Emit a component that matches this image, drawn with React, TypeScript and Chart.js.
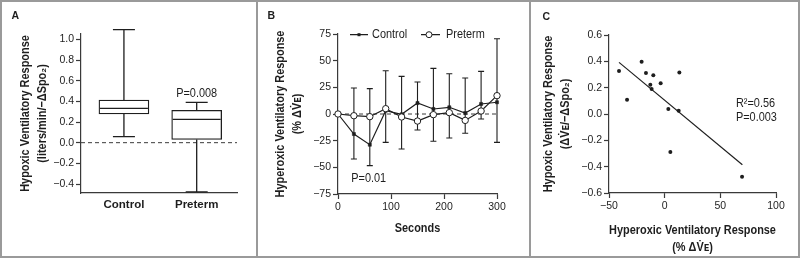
import React, { useEffect, useRef } from "react";
import { Chart, registerables } from "chart.js";

Chart.register(...registerables);

const FONT = "'Liberation Sans', Arial, 'DejaVu Sans', sans-serif";
const INK = "#1e1e1e";
const AXIS = "#3a3a3a";
const FRAME = "#9a9a9a";
const CONDENSE = 0.84;

// ---------- Panel A: box plot ----------
const A_GROUPS = ["Control", "Preterm"];
const A_MIN = [0.058, -0.477];
const A_Q1 = [0.278, 0.032];
const A_MEDIAN = [0.333, 0.226];
const A_Q3 = [0.413, 0.313];
const A_MAX = [1.095, 0.39];
const A_TICKS = [-0.4, -0.2, 0, 0.2, 0.4, 0.6, 0.8, 1.0];
const A_P_TEXT = "P=0.008";
const A_P_POS = [1, 0.48];
const A_Y_TITLE = ["Hypoxic Ventilatory Response", "(liters/min/\u2212\u0394Spo\u2082)"];

// ---------- Panel B: time course ----------
const B_SECONDS = [0, 30, 60, 90, 120, 150, 180, 210, 240, 270, 300];
const B_CONTROL = [0, -18.8, -28.8, 3.1, -0.3, 10.3, 4.7, 6.3, 0.9, 9.4, 11];
const B_PRETERM = [0, -1.6, -2.5, 5, -2.8, -6.6, -0.6, 1.3, -6, 2.8, 17.2];
const B_ERR_HIGH = [null, 24.4, 23.8, 40.6, 35.3, 30, 42.8, 37.8, 33.8, 40, 70.6];
const B_ERR_LOW = [null, -42.2, -48.4, -26.6, -32.8, -15, -25.6, -22.5, -18, -4.7, -26.6];
const B_TICKS_X = [0, 100, 200, 300];
const B_TICKS_Y = [-75, -50, -25, 0, 25, 50, 75];
const B_P_TEXT = "P=0.01";
const B_P_POS = [25, -60];
const B_SERIES = ["Control", "Preterm"];
const B_Y_TITLE = ["Hyperoxic Ventilatory Response", "(% \u0394V\u0307\u1D07)"];
const B_X_TITLE = ["Seconds"];

// ---------- Panel C: scatter + regression ----------
const C_X = [-41, -33.8, -20.7, -16.8, -12.9, -11.7, -10.2, -3.6, 3.3, 5.1, 12.6, 13.2, 69.5];
const C_Y = [0.327, 0.109, 0.397, 0.311, 0.223, 0.19, 0.294, 0.233, 0.038, -0.289, 0.025, 0.316, -0.476];
const C_FIT_X = [-41, 69.8];
const C_FIT_Y = [0.392, -0.385];
const C_TICKS_X = [-50, 0, 50, 100];
const C_TICKS_Y = [-0.6, -0.4, -0.2, 0, 0.2, 0.4, 0.6];
const C_STATS = ["R\u00B2=0.56", "P=0.003"];
const C_STATS_POS = [64, 0.078];
const C_Y_TITLE = ["Hypoxic Ventilatory Response", "(\u0394V\u0307\u1D07/\u2212\u0394Spo\u2082)"];
const C_X_TITLE = ["Hyperoxic Ventilatory Response", "(% \u0394V\u0307\u1D07)"];

const MINUS = "\u2212";
const fmt1 = (v: number) => (v < 0 ? MINUS : "") + Math.abs(v).toFixed(1);
const fmt0 = (v: number) => (v < 0 ? MINUS : "") + String(Math.abs(v));
const fixedTicks = (vals: number[]) => (scale: any) => {
  scale.ticks = vals.map((v) => ({ value: v }));
};

const TICK_FONT = { size: 10.5 };

function yScale(min: number, max: number, ticks: number[], fmt: (v: number) => string, width: number) {
  return {
    type: "linear",
    min,
    max,
    afterBuildTicks: fixedTicks(ticks),
    afterFit: (s: any) => {
      s.width = width;
    },
    border: { color: AXIS, width: 1.2 },
    grid: { drawOnChartArea: false, drawTicks: true, tickLength: 5, tickColor: AXIS, tickWidth: 1.2 },
    ticks: { padding: 2, color: INK, font: TICK_FONT, callback: (v: number) => fmt(v) },
    title: { display: false },
  };
}

function xScale(min: number, max: number, ticks: number[], fmt: (v: number) => string, height: number) {
  return {
    type: "linear",
    min,
    max,
    offset: false,
    afterBuildTicks: fixedTicks(ticks),
    afterFit: (s: any) => {
      s.height = height;
    },
    border: { color: AXIS, width: 1.2 },
    grid: { drawOnChartArea: false, drawTicks: true, tickLength: 5, tickColor: AXIS, tickWidth: 1.2, offset: false },
    ticks: { padding: 2, color: INK, font: TICK_FONT, maxRotation: 0, callback: (v: number) => fmt(v) },
    title: { display: false },
  };
}

// condensed text, to imitate the narrow typeface of the original
function cText(ctx: CanvasRenderingContext2D, t: string, x: number, y: number) {
  const w = ctx.measureText(t).width;
  ctx.fillText(t, x, y, w * CONDENSE);
}

function textStyle(ctx: CanvasRenderingContext2D, font: string, align: CanvasTextAlign) {
  ctx.fillStyle = INK;
  ctx.font = font;
  ctx.textAlign = align;
  ctx.textBaseline = "middle";
}

// vertical (rotated) axis title, line centres given as x positions
function yTitle(ctx: CanvasRenderingContext2D, lines: string[], x0: number, cy: number, lh: number) {
  ctx.save();
  textStyle(ctx, `bold 13px ${FONT}`, "center");
  lines.forEach((t, i) => {
    ctx.save();
    ctx.translate(x0 + i * lh, cy);
    ctx.rotate(-Math.PI / 2);
    cText(ctx, t, 0, 0);
    ctx.restore();
  });
  ctx.restore();
}

function xTitle(ctx: CanvasRenderingContext2D, lines: string[], cx: number, y0: number, lh: number) {
  ctx.save();
  textStyle(ctx, `bold 13px ${FONT}`, "center");
  lines.forEach((t, i) => cText(ctx, t, cx, y0 + i * lh));
  ctx.restore();
}

function letter(ctx: CanvasRenderingContext2D, t: string, x: number, y: number) {
  ctx.save();
  ctx.fillStyle = INK;
  ctx.font = `bold 10.5px ${FONT}`;
  ctx.textAlign = "left";
  ctx.textBaseline = "alphabetic";
  ctx.fillText(t, x, y);
  ctx.restore();
}

function dashedZero(ctx: CanvasRenderingContext2D, ca: any, y: any) {
  const y0 = y.getPixelForValue(0);
  ctx.save();
  ctx.strokeStyle = AXIS;
  ctx.lineWidth = 1;
  ctx.setLineDash([4, 3]);
  ctx.beginPath();
  ctx.moveTo(ca.left, y0);
  ctx.lineTo(ca.right, y0);
  ctx.stroke();
  ctx.restore();
}

const basePlugins = {
  legend: { display: false },
  tooltip: { enabled: false },
  title: { display: false },
};

function configA(): any {
  const plugin = {
    id: "boxA",
    beforeDatasetsDraw(chart: any) {
      const { ctx, chartArea: ca, scales } = chart;
      const x = scales.x;
      const y = scales.y;
      dashedZero(ctx, ca, y);
      ctx.save();
      ctx.strokeStyle = INK;
      ctx.lineWidth = 1.3;
      A_GROUPS.forEach((_, i) => {
        const cx = x.getPixelForValue(i);
        ctx.beginPath();
        ctx.moveTo(cx, y.getPixelForValue(A_MAX[i]));
        ctx.lineTo(cx, y.getPixelForValue(A_Q3[i]));
        ctx.moveTo(cx, y.getPixelForValue(A_Q1[i]));
        ctx.lineTo(cx, y.getPixelForValue(A_MIN[i]));
        ctx.moveTo(cx - 11, y.getPixelForValue(A_MAX[i]));
        ctx.lineTo(cx + 11, y.getPixelForValue(A_MAX[i]));
        ctx.moveTo(cx - 11, y.getPixelForValue(A_MIN[i]));
        ctx.lineTo(cx + 11, y.getPixelForValue(A_MIN[i]));
        ctx.stroke();
      });
      ctx.restore();
    },
    afterDatasetsDraw(chart: any) {
      const { ctx, chartArea: ca, scales } = chart;
      const x = scales.x;
      const y = scales.y;
      ctx.save();
      ctx.strokeStyle = INK;
      ctx.lineWidth = 1.3;
      A_GROUPS.forEach((_, i) => {
        const cx = x.getPixelForValue(i);
        const my = y.getPixelForValue(A_MEDIAN[i]);
        ctx.beginPath();
        ctx.moveTo(cx - 24, my);
        ctx.lineTo(cx + 24, my);
        ctx.stroke();
      });
      textStyle(ctx, `13px ${FONT}`, "center");
      cText(ctx, A_P_TEXT, x.getPixelForValue(A_P_POS[0]), y.getPixelForValue(A_P_POS[1]));
      ctx.restore();
      yTitle(ctx, A_Y_TITLE, 25, (ca.top + ca.bottom) / 2, 17);
      letter(ctx, "A", 11.5, 19.3);
    },
  };
  return {
    type: "bar",
    data: {
      datasets: [
        {
          data: A_GROUPS.map((_, i) => ({ x: i, y: [A_Q1[i], A_Q3[i]] })),
          backgroundColor: "#ffffff",
          borderColor: INK,
          borderWidth: 1.3,
          borderSkipped: false,
          barThickness: 50,
        },
      ],
    },
    options: {
      animation: false,
      responsive: false,
      maintainAspectRatio: false,
      events: [],
      layout: { padding: { left: 11, right: 563, top: 34, bottom: 25 } },
      plugins: basePlugins,
      scales: {
        x: {
          type: "linear",
          min: -0.59,
          max: 1.554,
          offset: false,
          afterBuildTicks: fixedTicks([0, 1]),
          afterFit: (s: any) => {
            s.height = 40;
          },
          border: { color: AXIS, width: 1.2 },
          grid: { display: false, drawTicks: false, offset: false },
          ticks: {
            padding: 5,
            color: INK,
            maxRotation: 0,
            font: { size: 11.5, weight: "bold" },
            callback: (_v: number, i: number) => A_GROUPS[i],
          },
        },
        y: yScale(-0.487, 1.052, A_TICKS, fmt1, 70),
      },
    },
    plugins: [plugin],
  };
}

function configB(): any {
  const plugin = {
    id: "timeB",
    beforeDatasetsDraw(chart: any) {
      const { ctx, chartArea: ca, scales } = chart;
      const x = scales.x;
      const y = scales.y;
      dashedZero(ctx, ca, y);
      ctx.save();
      ctx.strokeStyle = INK;
      ctx.lineWidth = 1.1;
      B_SECONDS.forEach((s, i) => {
        const hi = B_ERR_HIGH[i];
        const lo = B_ERR_LOW[i];
        if (hi === null || lo === null) return;
        const cx = x.getPixelForValue(s);
        const yh = y.getPixelForValue(hi);
        const yl = y.getPixelForValue(lo);
        ctx.beginPath();
        ctx.moveTo(cx, yh);
        ctx.lineTo(cx, yl);
        ctx.moveTo(cx - 3, yh);
        ctx.lineTo(cx + 3, yh);
        ctx.moveTo(cx - 3, yl);
        ctx.lineTo(cx + 3, yl);
        ctx.stroke();
      });
      ctx.restore();
    },
    afterDatasetsDraw(chart: any) {
      const { ctx, chartArea: ca, scales } = chart;
      const x = scales.x;
      const y = scales.y;
      ctx.save();
      textStyle(ctx, `13px ${FONT}`, "left");
      cText(ctx, B_P_TEXT, x.getPixelForValue(B_P_POS[0]), y.getPixelForValue(B_P_POS[1]));
      // legend
      const ly = ca.top + 0.7;
      ctx.strokeStyle = INK;
      ctx.lineWidth = 1.2;
      ctx.beginPath();
      ctx.moveTo(ca.left + 12, ly);
      ctx.lineTo(ca.left + 30, ly);
      ctx.moveTo(ca.left + 83, ly);
      ctx.lineTo(ca.left + 102, ly);
      ctx.stroke();
      ctx.fillRect(ca.left + 19.5, ly - 1.5, 3, 3);
      ctx.beginPath();
      ctx.fillStyle = "#ffffff";
      ctx.arc(ca.left + 91, ly, 3, 0, Math.PI * 2);
      ctx.fill();
      ctx.lineWidth = 1;
      ctx.stroke();
      ctx.fillStyle = INK;
      cText(ctx, B_SERIES[0], ca.left + 34, ly);
      cText(ctx, B_SERIES[1], ca.left + 108, ly);
      ctx.restore();
      yTitle(ctx, B_Y_TITLE, 280.5, (ca.top + ca.bottom) / 2, 17);
      xTitle(ctx, B_X_TITLE, (ca.left + ca.right) / 2, 228.5, 17);
      letter(ctx, "B", 267.5, 19.3);
    },
  };
  return {
    type: "line",
    data: {
      datasets: [
        {
          label: B_SERIES[0],
          data: B_SECONDS.map((s, i) => ({ x: s, y: B_CONTROL[i] })),
          borderColor: INK,
          borderWidth: 1.2,
          pointStyle: "rect",
          pointRadius: 2.2,
          pointBackgroundColor: INK,
          pointBorderColor: INK,
          pointBorderWidth: 0.5,
          tension: 0,
          clip: false,
          order: 1,
        },
        {
          label: B_SERIES[1],
          data: B_SECONDS.map((s, i) => ({ x: s, y: B_PRETERM[i] })),
          borderColor: INK,
          borderWidth: 1.2,
          pointStyle: "circle",
          pointRadius: 3.2,
          pointBackgroundColor: "#ffffff",
          pointBorderColor: INK,
          pointBorderWidth: 1,
          tension: 0,
          clip: false,
          order: 0,
        },
      ],
    },
    options: {
      animation: false,
      responsive: false,
      maintainAspectRatio: false,
      events: [],
      layout: { padding: { left: 262, right: 303, top: 34, bottom: 19 } },
      plugins: basePlugins,
      scales: {
        x: xScale(0, 300, B_TICKS_X, fmt0, 45),
        y: yScale(-75, 75, B_TICKS_Y, fmt0, 76),
      },
    },
    plugins: [plugin],
  };
}

function configC(): any {
  const plugin = {
    id: "statsC",
    afterDatasetsDraw(chart: any) {
      const { ctx, chartArea: ca, scales } = chart;
      const x = scales.x;
      const y = scales.y;
      ctx.save();
      textStyle(ctx, `13px ${FONT}`, "left");
      const px = x.getPixelForValue(C_STATS_POS[0]);
      const py = y.getPixelForValue(C_STATS_POS[1]);
      C_STATS.forEach((t, i) => cText(ctx, t, px, py + i * 13.5));
      ctx.restore();
      yTitle(ctx, C_Y_TITLE, 548.5, (ca.top + ca.bottom) / 2, 17);
      xTitle(ctx, C_X_TITLE, (ca.left + ca.right) / 2, 230, 17);
      letter(ctx, "C", 542.5, 19.8);
    },
  };
  return {
    type: "scatter",
    data: {
      datasets: [
        {
          data: C_X.map((v, i) => ({ x: v, y: C_Y[i] })),
          pointRadius: 2,
          pointBackgroundColor: INK,
          pointBorderColor: INK,
          pointBorderWidth: 0,
          clip: false,
        },
        {
          data: C_FIT_X.map((v, i) => ({ x: v, y: C_FIT_Y[i] })),
          showLine: true,
          borderColor: INK,
          borderWidth: 1.2,
          pointRadius: 0,
          clip: false,
        },
      ],
    },
    options: {
      animation: false,
      responsive: false,
      maintainAspectRatio: false,
      events: [],
      layout: { padding: { left: 535, right: 24, top: 35, bottom: 2 } },
      plugins: basePlugins,
      scales: {
        x: xScale(-50, 100, C_TICKS_X, fmt0, 63),
        y: yScale(-0.6, 0.6, C_TICKS_Y, fmt1, 74),
      },
    },
    plugins: [plugin],
  };
}

export default function App() {
  const aRef = useRef<HTMLCanvasElement>(null);
  const bRef = useRef<HTMLCanvasElement>(null);
  const cRef = useRef<HTMLCanvasElement>(null);

  useEffect(() => {
    document.body.style.margin = "0";
    Chart.defaults.font.family = FONT;
    Chart.defaults.color = INK;
    const charts = [
      new Chart(aRef.current as HTMLCanvasElement, configA()),
      new Chart(bRef.current as HTMLCanvasElement, configB()),
      new Chart(cRef.current as HTMLCanvasElement, configC()),
    ];
    return () => charts.forEach((c) => c.destroy());
  }, []);

  const canvasStyle: React.CSSProperties = { position: "absolute", left: 0, top: 0, width: 800, height: 258 };
  const line = (l: number, t: number, w: number, h: number): React.CSSProperties => ({
    position: "absolute",
    left: l,
    top: t,
    width: w,
    height: h,
    background: FRAME,
  });

  return (
    <div style={{ position: "relative", width: 800, height: 258, background: "#ffffff", overflow: "hidden" }}>
      <canvas ref={aRef} width={800} height={258} style={canvasStyle} />
      <canvas ref={bRef} width={800} height={258} style={canvasStyle} />
      <canvas ref={cRef} width={800} height={258} style={canvasStyle} />
      <div style={line(0, 0, 800, 2)} />
      <div style={line(0, 256, 800, 2)} />
      <div style={line(0, 0, 2, 258)} />
      <div style={line(798, 0, 2, 258)} />
      <div style={line(256, 0, 2, 258)} />
      <div style={line(529, 0, 2, 258)} />
    </div>
  );
}
